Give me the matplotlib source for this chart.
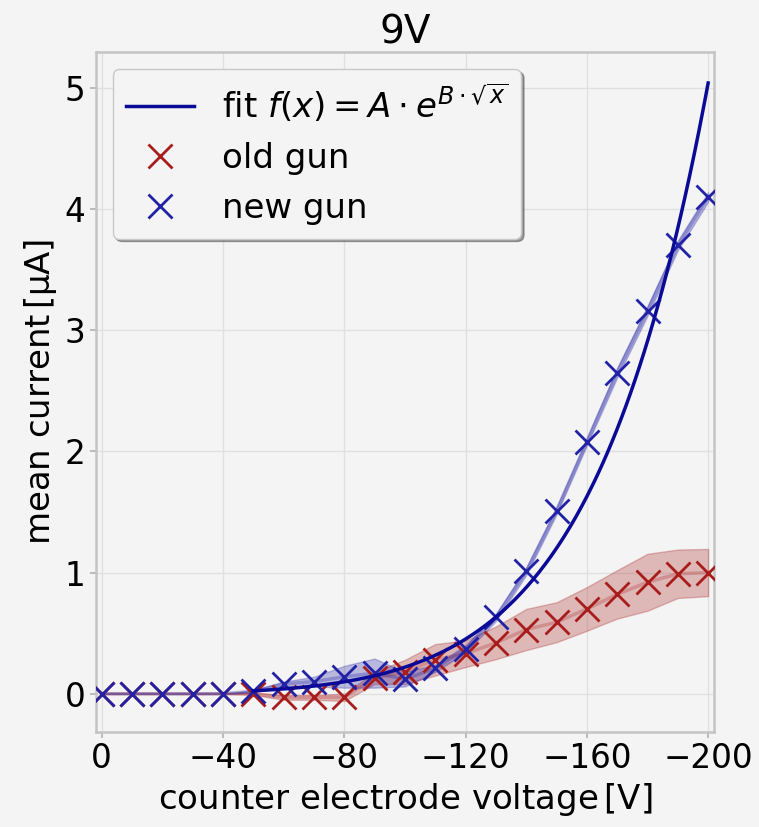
import numpy as np
import matplotlib
matplotlib.use("Agg")
import matplotlib.pyplot as plt

# counter electrode voltage [V]
voltage = [0, -10, -20, -30, -40, -50, -60, -70, -80, -90, -100,
           -110, -120, -130, -140, -150, -160, -170, -180, -190, -200]

old_mean = [0, 0, 0, 0, 0, 0.0, -0.03, -0.03, -0.03, 0.13, 0.18,
            0.28, 0.33, 0.42, 0.53, 0.59, 0.70, 0.82, 0.92, 0.99, 1.0]
old_std = [0, 0, 0, 0, 0, 0.01, 0.02, 0.02, 0.03, 0.05, 0.10,
           0.13, 0.11, 0.135, 0.17, 0.165, 0.18, 0.20, 0.235, 0.20, 0.195]

new_mean = [0, 0, 0, 0, 0, 0.02, 0.08, 0.10, 0.14, 0.17, 0.12,
            0.21, 0.37, 0.63, 1.01, 1.51, 2.08, 2.65, 3.16, 3.70, 4.10]
new_std = [0, 0, 0, 0, 0, 0.01, 0.02, 0.04, 0.09, 0.12, 0.06,
           0.03, 0.03, 0.03, 0.03, 0.03, 0.03, 0.04, 0.04, 0.04, 0.04]

# fit parameters for f(x) = A * exp(B * sqrt(|x|))
fit_A = 1.13e-4
fit_B = 0.757
fit_range = (-50, -200)

red = "#a81c1c"
blue = "#2222a6"
fitcol = "#0a0a96"
bg = "#f4f4f4"

plt.rcParams["font.family"] = "DejaVu Sans"
plt.rcParams["mathtext.fontset"] = "dejavusans"

fig = plt.figure(figsize=(7.59, 8.27), dpi=100, facecolor=bg)
ax = fig.add_axes([0.126, 0.115, 0.815, 0.822])
ax.set_facecolor(bg)

v = np.array(voltage)
om, os_ = np.array(old_mean), np.array(old_std)
nm, ns = np.array(new_mean), np.array(new_std)

xf = np.linspace(fit_range[0], fit_range[1], 300)
yf = fit_A * np.exp(fit_B * np.sqrt(np.abs(xf)))
ax.plot(xf, yf, color=fitcol, lw=2.5, zorder=5,
        label=r"fit $f(x) = A \cdot e^{B \cdot \sqrt{x}}$")

ax.fill_between(v, om - os_, om + os_, color=red, alpha=0.28, lw=1)
ax.plot(v, om, color=red, alpha=0.25, lw=2.5)
ax.plot(v, om, "x", color=red, ms=17, mew=2, label="old gun", zorder=3)

ax.fill_between(v, nm - ns, nm + ns, color=blue, alpha=0.28, lw=1)
ax.plot(v, nm, color=blue, alpha=0.3, lw=2.5)
ax.plot(v, nm, "x", color=blue, ms=17, mew=2, label="new gun", zorder=4)

ax.margins(x=0.01)
ax.invert_xaxis()
ax.set_xticks([0, -40, -80, -120, -160, -200])
ax.set_yticks([0, 1, 2, 3, 4, 5])
ax.grid(True, color="#e0e0e0", lw=1)
ax.set_axisbelow(True)
for s in ax.spines.values():
    s.set_color("#c4c4c4")
    s.set_linewidth(1.8)
ax.tick_params(labelsize=23.5, color="#b0b0b0", length=4, width=1.2)

ax.set_title("9V", fontsize=28)
ax.set_xlabel(r"counter electrode voltage$\,$[V]", fontsize=24.5)
ax.set_ylabel(r"mean current$\,$[µA]", fontsize=24.5)

leg = ax.legend(loc="upper left", fontsize=24.5, shadow=True, fancybox=True,
                facecolor=bg, edgecolor="#c8c8c8", framealpha=1)

fig.savefig("out.png", dpi=100, facecolor=bg)
